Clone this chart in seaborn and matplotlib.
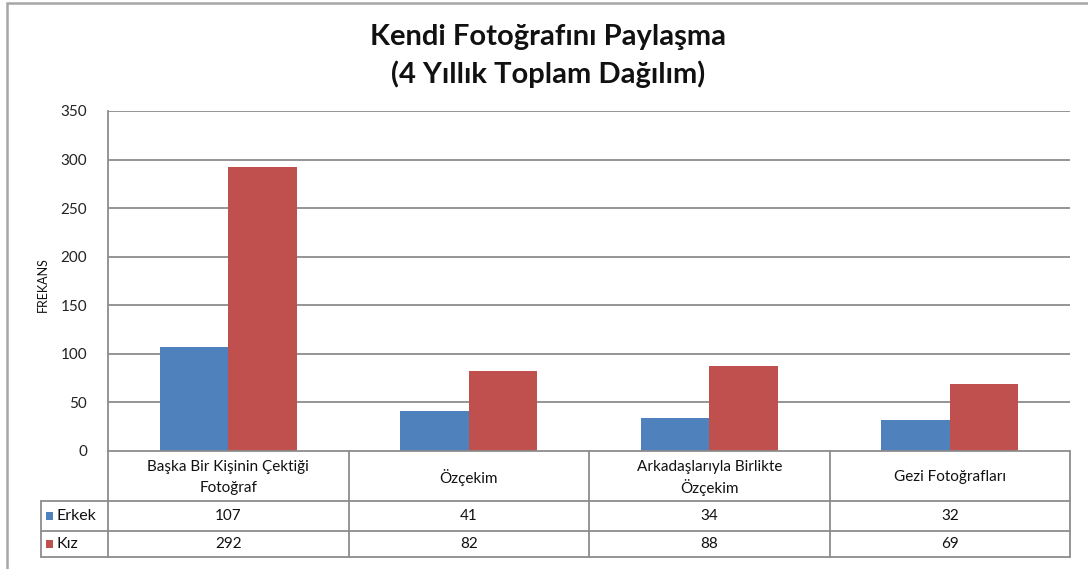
import matplotlib
matplotlib.use("Agg")
import matplotlib.pyplot as plt
from matplotlib.lines import Line2D
from matplotlib.patches import Rectangle
from matplotlib.transforms import blended_transform_factory
import seaborn as sns
import pandas as pd

# Data
kategoriler = ["Başka Bir Kişinin Çektiği\nFotoğraf", "Özçekim",
               "Arkadaşlarıyla Birlikte\nÖzçekim", "Gezi Fotoğrafları"]
seriler = ["Erkek", "Kız"]
erkek = [107, 41, 34, 32]
kiz = [292, 82, 88, 69]
y_ticks = [0, 50, 100, 150, 200, 250, 300, 350]

renkler = ["#4F81BD", "#C0504D"]
cizgi = "#8c8c8c"

W, H = 1088, 569
sns.set_theme(style="white")
plt.rcParams["font.family"] = ["Lato", "DejaVu Sans"]

fig = plt.figure(figsize=(W / 100, H / 100), dpi=100)
fig.patch.set_facecolor("white")

def fx(x):
    return x / W

def fy(y):
    return 1 - y / H

# plot area in pixel coordinates
L, R, T, B = 108, 1070, 111, 451
ax = fig.add_axes([fx(L), fy(B), fx(R - L), (B - T) / H])

df = pd.DataFrame({
    "kategori": kategoriler * 2,
    "cinsiyet": [seriler[0]] * 4 + [seriler[1]] * 4,
    "frekans": erkek + kiz,
})
sns.barplot(data=df, x="kategori", y="frekans", hue="cinsiyet",
            palette=renkler, width=0.57, saturation=1, legend=False,
            linewidth=0, ax=ax)

ax.set_xlim(-0.5, 3.5)
ax.set_ylim(0, 350)
ax.set_yticks(y_ticks)
ax.set_yticklabels([str(v) for v in y_ticks], fontsize=11, color="#222222")
ax.tick_params(axis="y", length=0, pad=15)
ax.set_xticks([])
ax.set_xlabel("")
ax.set_ylabel("")
for v in y_ticks[1:]:
    ax.axhline(v, color=cizgi, lw=1.3, zorder=0)
for s in ["top", "right", "bottom"]:
    ax.spines[s].set_visible(False)
ax.spines["left"].set_color(cizgi)
ax.spines["left"].set_linewidth(1.3)

# y axis title
fig.text(fx(43), fy(285), "FREKANS", rotation=90, ha="center", va="center",
         fontsize=9, color="#111111")

# chart title
fig.text(fx(548), fy(37), "Kendi Fotoğrafını Paylaşma", ha="center",
         va="center", fontsize=21, fontweight="bold", color="#111111")
fig.text(fx(548), fy(74), "(4 Yıllık Toplam Dağılım)", ha="center",
         va="center", fontsize=21, fontweight="bold", color="#111111")

# data table
kw = dict(color=cizgi, lw=1.3, transform=fig.transFigure)
cols = [L + i * (R - L) / 4 for i in range(5)]
rows = [B, 501, 531, 557]
for x in cols:
    fig.add_artist(Line2D([fx(x), fx(x)], [fy(B), fy(rows[-1])], **kw))
fig.add_artist(Line2D([fx(L), fx(R)], [fy(B), fy(B)], **kw))
for y in rows[1:]:
    fig.add_artist(Line2D([fx(41), fx(R)], [fy(y), fy(y)], **kw))
fig.add_artist(Line2D([fx(41), fx(41)], [fy(rows[1]), fy(rows[-1])], **kw))

tr = blended_transform_factory(ax.transData, fig.transFigure)
satir_araligi = 21
for i, kat in enumerate(kategoriler):
    parcalar = kat.split("\n")
    merkez = (rows[0] + rows[1]) / 2
    ilk = merkez - satir_araligi * (len(parcalar) - 1) / 2
    for j, parca in enumerate(parcalar):
        ax.text(i, fy(ilk + j * satir_araligi), parca, transform=tr,
                ha="center", va="center_baseline", fontsize=11,
                color="#111111", clip_on=False)
for r, (ad, degerler, renk) in enumerate(zip(seriler, [erkek, kiz], renkler)):
    yc = (rows[r + 1] + rows[r + 2]) / 2
    for i, v in enumerate(degerler):
        ax.text(i, fy(yc), str(v), transform=tr, ha="center", va="center",
                fontsize=11, color="#111111", clip_on=False)
    fig.add_artist(Rectangle((fx(46), fy(yc + 4)), 7 / W, 8 / H,
                             transform=fig.transFigure, color=renk, lw=0))
    fig.text(fx(56), fy(yc), ad, ha="left", va="center", fontsize=11.5,
             color="#111111")

# outer chart frame
fig.add_artist(Rectangle((fx(7), fy(575)), (1100 - 7) / W, (575 - 3) / H,
                         transform=fig.transFigure, fill=False,
                         edgecolor="#a6a6a6", lw=1.8))

fig.savefig("out.png", dpi=100, facecolor="white")
